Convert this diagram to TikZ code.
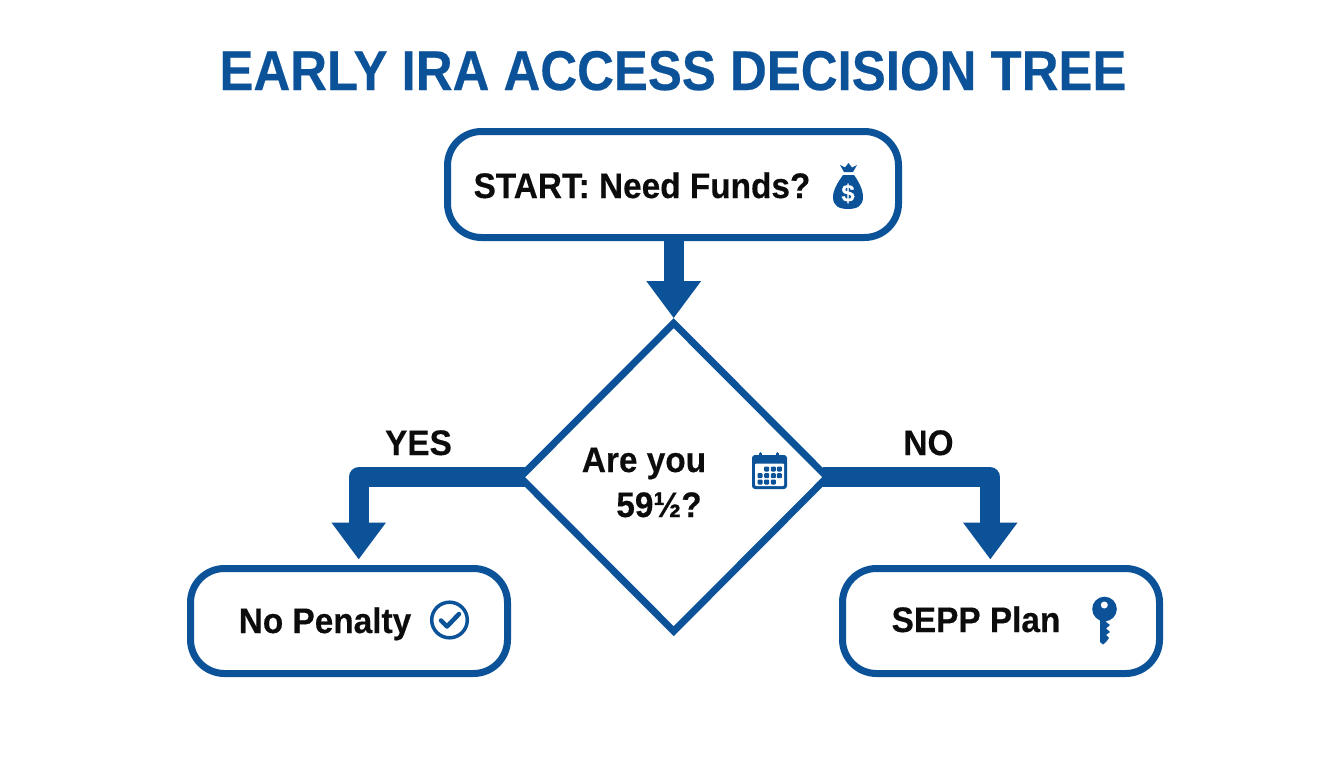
\documentclass[tikz,border=0pt]{standalone}
\usepackage{fontspec}
\setmainfont{Liberation Sans}
\newfontfamily\heavy[BoldFeatures={FakeBold=0.35}]{Liberation Sans}
\usetikzlibrary{shapes.geometric,arrows.meta}
\definecolor{ablue}{HTML}{0B5299}
\definecolor{ink}{HTML}{0C0C0C}
\newcommand{\labtxt}[1]{\scalebox{.94}[1]{#1}}
\tikzset{
  box/.style={draw=ablue,line width=7pt,rounded corners=34pt,fill=white,inner sep=0pt,outer sep=0pt},
  flow/.style={draw=ablue,line width=20pt,line join=round,-{Triangle[length=37pt,width=52pt]}},
  lab/.style={text=ink,font=\fontsize{35.5}{35.5}\heavy\bfseries,inner sep=0pt,anchor=base},
  icon/.style={fill=ablue,draw=none}
}
\begin{document}
\begin{tikzpicture}[x=1pt,y=-1pt]
\useasboundingbox (0,0) rectangle (1344,768);
\fill[white] (0,0) rectangle (1344,768);
\node[text=ablue,font=\fontsize{56}{56}\heavy\bfseries,inner sep=0pt,anchor=base] (title) at (673,90) {\scalebox{.91}[1]{EARLY IRA ACCESS DECISION TREE}};
\node[box,minimum width=451pt,minimum height=106pt] (start) at (673,184.5) {};
\node[diamond,draw=ablue,line width=7pt,fill=white,inner sep=0pt,outer sep=0pt,minimum width=307pt,minimum height=308pt] (dec) at (673.7,477.2) {};
\node[box,minimum width=317pt,minimum height=105pt] (pen) at (349,621) {};
\node[box,minimum width=317pt,minimum height=105pt] (sepp) at (1001,621) {};
\draw[flow] (start.south -| dec.north) -- ([yshift=5pt]dec.north);
\draw[flow] ([xshift=4.5pt]dec.west) -| ([xshift=9.7pt,yshift=9pt]pen.north);
\draw[flow] ([xshift=-4.5pt]dec.east) -| ([xshift=-10.7pt,yshift=9pt]sepp.north);
\node[lab] (t1) at (642,198) {\labtxt{START: Need Funds?}};
\node[lab] (t2) at (644,472) {\labtxt{Are you}};
\node[lab] (t3) at (659,517) {\labtxt{59½?}};
\node[lab] (t4) at (325,633) {\labtxt{No Penalty}};
\node[lab] (t5) at (976,632) {\labtxt{SEPP Plan}};
\node[lab] (yes) at (418.5,455) {\labtxt{YES}};
\node[lab] (no) at (928.5,455) {\labtxt{NO}};
% money bag
\fill[icon] (840,165) -- (845,167.5) -- (848.5,163) -- (852,167.5) -- (857,165) -- (853,172) -- (844,172) -- cycle;
\fill[icon] (843,175) -- (854,175) .. controls (859,182) and (863,190) .. (863,197) .. controls (863,206) and (857,209) .. (848,209) .. controls (839,209) and (833,206) .. (833,197) .. controls (833,190) and (838,182) .. (843,175) -- cycle;
\node[text=white,font=\fontsize{24}{24}\heavy\bfseries,inner sep=0pt] (dollar) at (848,193.5) {\$};
% calendar
\fill[icon,rounded corners=3pt] (752,455) rectangle (787,489);
\fill[white,rounded corners=1pt] (755,463.5) rectangle (784,486);
\draw[ablue,line width=3pt,line cap=round] (760.7,453.5) -- (760.7,458);
\draw[ablue,line width=3pt,line cap=round] (777,453.5) -- (777,458);
\foreach \x in {766.7,773.3,779.3}{\fill[icon,rounded corners=1pt] (\x-2.5,466.5) rectangle +(5,5);}
\foreach \x in {760,766.7,773.3,779.3}{\fill[icon,rounded corners=1pt] (\x-2.5,473.2) rectangle +(5,5);}
\foreach \x in {760,766.7,773.3}{\fill[icon,rounded corners=1pt] (\x-2.5,479.5) rectangle +(5,5);}
% check
\draw[ablue,line width=3.5pt] (449.5,620) circle (17.8pt);
\draw[ablue,line width=4.5pt,line cap=round,line join=round] (441,620.5) -- (447,626.5) -- (459,614);
% key
\fill[icon] (1100,618) -- (1106,618) -- (1106,622) -- (1110,625) -- (1106,628.5) -- (1110,632) -- (1106,635) -- (1109,638) -- (1106,642) -- (1103,644.5) -- (1100,642) -- cycle;
\fill[icon] (1104.5,609) circle (12.3pt);
\fill[white] (1104.3,605) circle (3.5pt);
\end{tikzpicture}
\end{document}
